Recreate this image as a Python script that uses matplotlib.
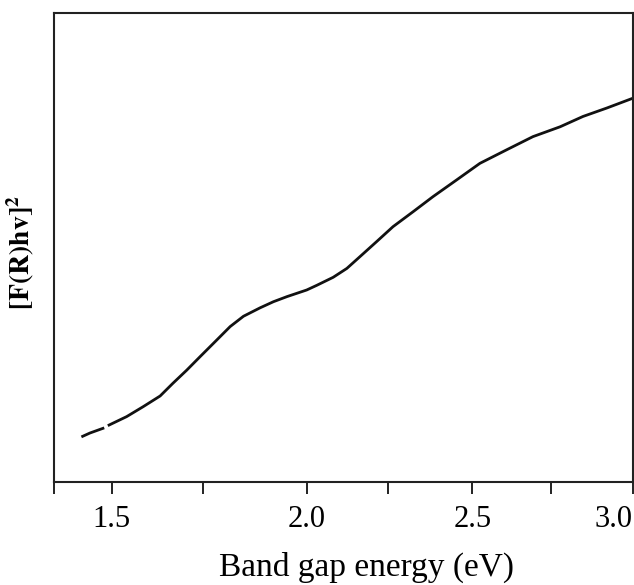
import numpy as np
import matplotlib
matplotlib.use('Agg')
from matplotlib import pyplot as plt
from matplotlib.ticker import FixedLocator, NullLocator

plt.rcParams['font.family'] = ['Liberation Serif', 'DejaVu Serif']
plt.rcParams['mathtext.fontset'] = 'stix'

# band gap energy (eV) and [F(R)hv]^2 (arb. units)
energy = [1.424, 1.443, 1.477, np.nan, 1.493, 1.541, 1.586, 1.633, 1.668,
          1.706, 1.743, 1.780, 1.816, 1.848, 1.888, 1.920, 1.953, 2.0,
          2.031, 2.081, 2.123, 2.163, 2.214, 2.264, 2.324, 2.383, 2.454,
          2.524, 2.609, 2.692, 2.777, 2.847, 2.920, 3.0]
signal = [9.8, 10.5, 11.5, np.nan, 12.2, 14.0, 16.1, 18.4, 21.1,
          23.9, 26.8, 30.0, 33.2, 35.4, 37.2, 38.5, 39.6, 41.0,
          42.0, 43.7, 45.6, 48.1, 51.3, 54.5, 57.7, 60.9, 64.5,
          68.0, 70.9, 73.7, 75.8, 78.0, 79.8, 81.9]

major_ticks = [1.5, 2.0, 2.5, 3.0]
major_labels = ['1.5', '2.0', '2.5', '3.0']
minor_ticks = [1.35, 1.75, 2.25, 2.75]

# the original x axis is not evenly spaced, so map it piecewise
scale_vals = [1.35, 1.5, 1.75, 2.0, 2.25, 2.5, 2.75, 3.0]
scale_pix = [54.3, 111.7, 202.7, 306.7, 388.3, 472.3, 551.3, 633.0]


def fwd(x):
    return np.interp(x, scale_vals, scale_pix)


def inv(p):
    return np.interp(p, scale_pix, scale_vals)


fig = plt.figure(figsize=(6.34, 5.85), dpi=100)
ax = fig.add_axes([0.0857, 0.1756, 0.9127, 0.8017])
ax.set_xscale('function', functions=(fwd, inv))

ax.plot(energy, signal, color='#111111', linewidth=2.0, solid_joinstyle='round')

ax.set_xlim(1.35, 3.0)
ax.set_ylim(0, 100)

ax.xaxis.set_major_locator(FixedLocator(major_ticks))
ax.set_xticklabels(major_labels)
ax.xaxis.set_minor_locator(FixedLocator(minor_ticks))
ax.yaxis.set_major_locator(NullLocator())
ax.yaxis.set_minor_locator(NullLocator())

ax.tick_params(axis='x', which='both', direction='out', length=8.5, width=1.4,
               color='#222222', labelsize=22, pad=8)
ax.get_xticklabels()[-1].set_horizontalalignment('right')
for s in ax.spines.values():
    s.set_linewidth(1.5)
    s.set_color('#222222')

ax.set_xlabel('Band gap energy (eV)', fontsize=24)
ax.xaxis.set_label_coords(0.54, -0.149)
ax.set_ylabel(r'$\mathbf{[F(R)hv]^2}$', fontsize=20)
ax.yaxis.set_label_coords(-0.032, 0.49)

fig.savefig('out.png', dpi=100)
